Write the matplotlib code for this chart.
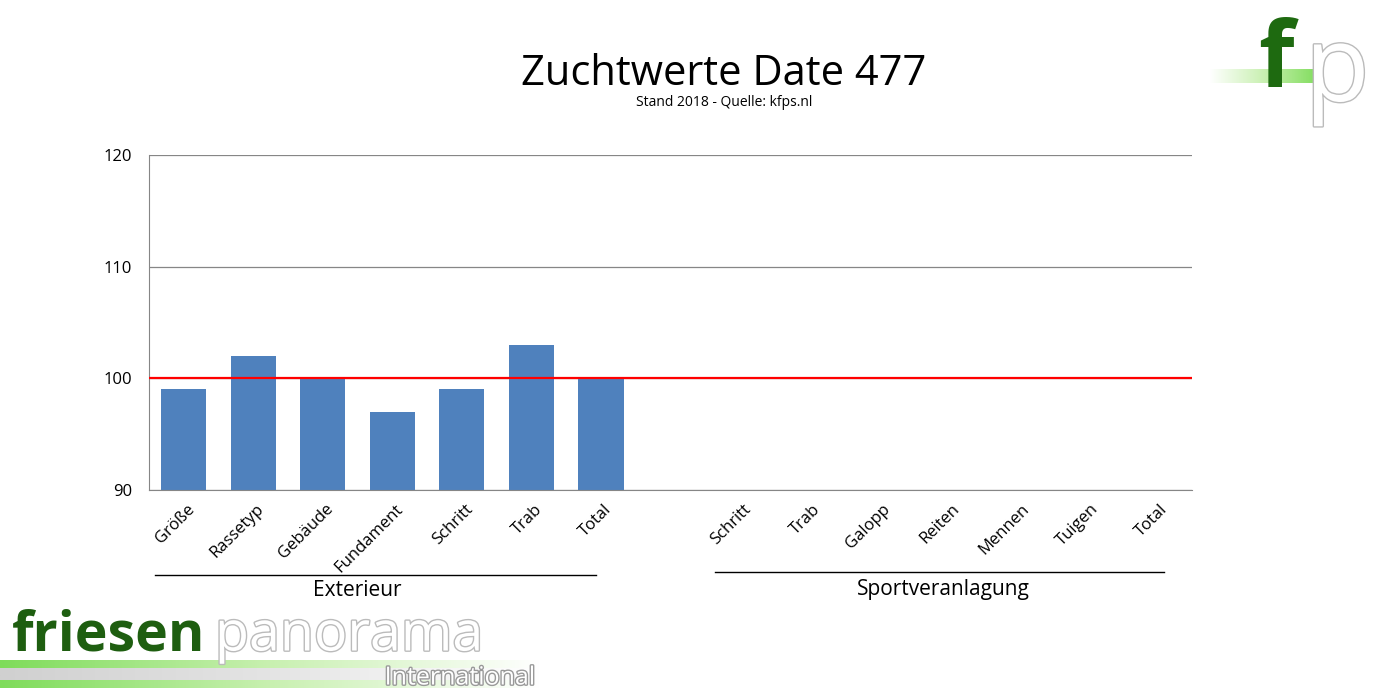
import matplotlib.pyplot as plt
import matplotlib.patheffects as pe
import matplotlib.transforms as mtransforms
from matplotlib.colors import LinearSegmentedColormap
import numpy as np

BLUE = "#4F81BD"
GRID = "#868686"

exterieur = ["Größe", "Rassetyp", "Gebäude", "Fundament", "Schritt", "Trab", "Total"]
exterieur_vals = [99, 102, 100, 97, 99, 103, 100]
sport = ["Schritt", "Trab", "Galopp", "Reiten", "Mennen", "Tuigen", "Total"]
sport_vals = [np.nan] * 7

plt.rcParams["font.family"] = ["Open Sans", "DejaVu Sans"]

fig = plt.figure(figsize=(14, 7), dpi=100)
ax = fig.add_axes([0.1064, 0.30, 0.745, 0.4786])

pos_ext = np.arange(len(exterieur))
pos_sport = np.arange(len(sport)) + len(exterieur) + 1
ax.bar(pos_ext, np.array(exterieur_vals) - 90, bottom=90, width=0.65, color=BLUE, zorder=2)
ax.bar(pos_sport, np.array(sport_vals) - 90, bottom=90, width=0.65, color=BLUE, zorder=2)
ax.axhline(100, color="#FF0000", lw=1.6, zorder=3)

ax.set_xlim(-0.5, pos_sport[-1] + 0.5)
ax.set_ylim(90, 120)
ax.set_yticks([90, 100, 110, 120])
ax.yaxis.grid(True, color=GRID, lw=0.9)
ax.set_axisbelow(True)
for s in ["top", "right"]:
    ax.spines[s].set_visible(False)
for s in ["left", "bottom"]:
    ax.spines[s].set_color(GRID)
ax.tick_params(axis="y", length=0, labelsize=12, colors="black", pad=12)
ax.tick_params(axis="x", length=0, labelsize=12, colors="black", pad=8)

ax.set_xticks(list(pos_ext) + list(pos_sport))
labels = ax.set_xticklabels(exterieur + sport, rotation=45, ha="right",
                            rotation_mode="anchor")
off = mtransforms.ScaledTranslation(2 / 72, 0, fig.dpi_scale_trans)
for lb in labels:
    lb.set_transform(lb.get_transform() + off)

# group brackets
fig.add_artist(plt.Line2D([155 / 1400, 596 / 1400], [1 - 575 / 700] * 2, color="black", lw=1))
fig.add_artist(plt.Line2D([715 / 1400, 1164 / 1400], [1 - 572 / 700] * 2, color="black", lw=1))
fig.text(357 / 1400, 1 - 590 / 700, "Exterieur", ha="center", va="center", fontsize=15)
fig.text(943 / 1400, 1 - 590 / 700, "Sportveranlagung", ha="center", va="center", fontsize=15)

# titles
fig.text(724 / 1400, 1 - 74 / 700, "Zuchtwerte Date 477", ha="center", va="center", fontsize=30)
fig.text(724 / 1400, 1 - 102 / 700, "Stand 2018 - Quelle: kfps.nl", ha="center", va="center", fontsize=10)

# friesenpanorama logo (approximation)
green_fade = LinearSegmentedColormap.from_list("gf", ["#FFFFFF", "#C8F0B0", "#7EDC5A"])
grey_fade = LinearSegmentedColormap.from_list("gg", ["#FFFFFF", "#E4E4E4", "#D0D0D0"])
grad = np.linspace(1, 0, 256).reshape(1, -1)

lax = fig.add_axes([0, 0, 540 / 1400, 110 / 700])
lax.set_xlim(0, 540)
lax.set_ylim(0, 110)
lax.axis("off")
lax.imshow(grad, extent=[0, 540, 12, 40], cmap=green_fade, aspect="auto")
lax.imshow(grad, extent=[0, 540, 20, 32], cmap=grey_fade, aspect="auto")
lax.text(12, 64, "friesen", fontsize=40, fontweight="bold", color="#1E5E10", va="center")
lax.text(215, 64, "panorama", fontsize=40, color="white", va="center",
         path_effects=[pe.withStroke(linewidth=2, foreground="#BBBBBB")])
lax.text(535, 22, "International", fontsize=18, color="white", ha="right", va="center",
         path_effects=[pe.withStroke(linewidth=2, foreground="#999999")])

# fp logo (approximation)
rax = fig.add_axes([1200 / 1400, 1 - 135 / 700, 200 / 1400, 135 / 700])
rax.set_xlim(0, 200)
rax.set_ylim(0, 135)
rax.axis("off")
rax.imshow(grad[:, ::-1], extent=[10, 120, 52, 66], cmap=green_fade, aspect="auto")
rax.text(58, 72, "f", fontsize=66, fontweight="bold", color="#1E6A10", va="center")
rax.text(105, 62, "p", fontsize=76, color="white", va="center",
         path_effects=[pe.withStroke(linewidth=2, foreground="#BBBBBB")])

fig.savefig("out.png", dpi=100)
